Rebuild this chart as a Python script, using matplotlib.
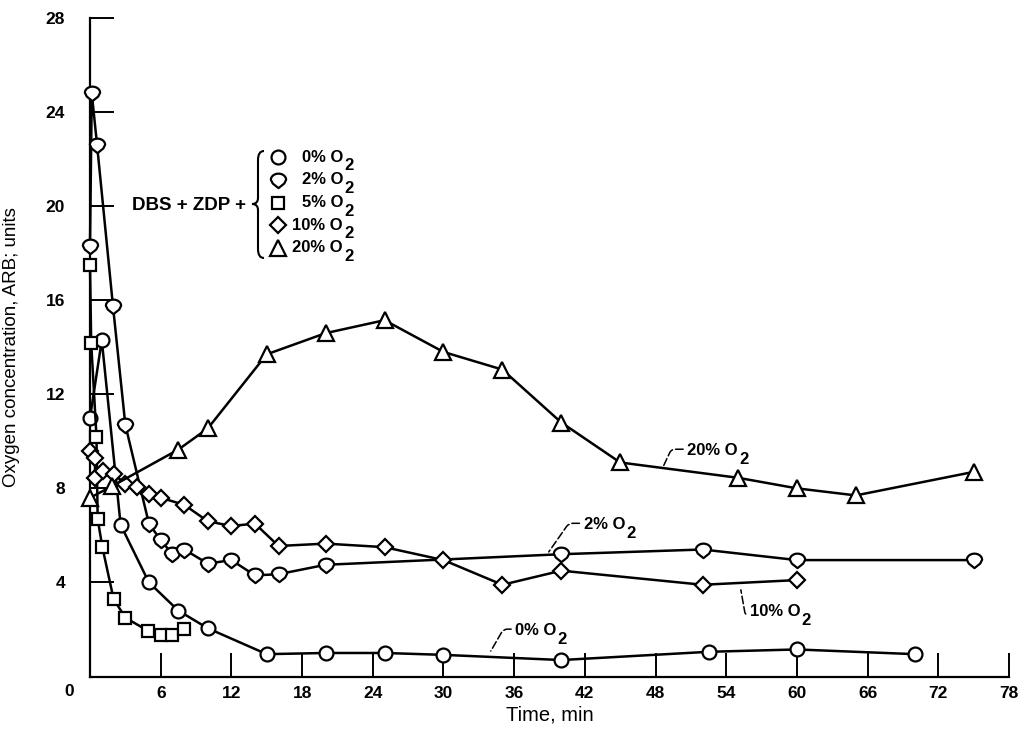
import numpy as np
import matplotlib
matplotlib.use('Agg')
import matplotlib.pyplot as plt
from matplotlib.path import Path
from matplotlib.patches import PathPatch
from matplotlib.lines import Line2D
from matplotlib.text import Text

# data (time in min, concentration in arb. units)
t_0 = [0, 1.0, 2.6, 5, 7.5, 10, 15, 20, 25, 30, 40, 52.5, 60, 70]
c_0 = [11.0, 14.3, 6.45, 4.0, 2.8, 2.05, 0.95, 1.0, 1.0, 0.92, 0.7, 1.05, 1.15, 0.95]

t_2 = [0, 0.15, 0.6, 1.95, 3.0, 5, 6, 7, 8, 10, 12, 14, 16, 20, 40, 52, 60, 75]
c_2 = [18.3, 24.8, 22.6, 15.75, 10.7, 6.5, 5.8, 5.2, 5.4, 4.8, 4.95, 4.3, 4.35, 4.75,
       5.2, 5.4, 4.95, 4.95]

t_5 = [0, 0.1, 0.55, 0.65, 1.05, 2, 3, 4.9, 6, 7, 8]
c_5 = [17.5, 14.2, 10.2, 6.7, 5.5, 3.3, 2.5, 1.95, 1.75, 1.75, 2.0]

t_10 = [0, 0.4, 0.45, 1.1, 2, 3, 4, 5, 6, 8, 10, 12, 14, 16, 20, 25, 30, 35, 40, 52, 60]
c_10 = [9.6, 9.3, 8.45, 8.75, 8.6, 8.2, 8.05, 7.75, 7.6, 7.3, 6.6, 6.4, 6.5, 5.55, 5.65,
        5.5, 4.95, 3.9, 4.5, 3.9, 4.1]

t_20 = [0, 1.9, 7.5, 10, 15, 20, 25, 30, 35, 40, 45, 55, 60, 65, 75]
c_20 = [7.6, 8.1, 9.65, 10.55, 13.7, 14.6, 15.15, 13.8, 13.05, 10.8, 9.1, 8.45, 8.0, 7.7, 8.7]

x_ticks = list(range(0, 79, 6))
y_ticks = list(range(0, 29, 4))
legend_names = ['0%', '2%', '5%', '10%', '20%']

W, H = 1020, 731
plt.rcParams['font.family'] = ['Liberation Sans', 'DejaVu Sans']
plt.rcParams['font.stretch'] = 'condensed'
plt.rcParams['font.weight'] = 'bold'
FS = 12.5     # tick labels
FL = 12       # legend and curve labels


def fpx(x, y):
    """pixel position (y from top) -> figure fraction"""
    return x / W, 1 - y / H


# 2% marker: round top, pointed bottom
th = np.linspace(0, np.pi, 13)
verts = [(np.cos(a), 0.1 + 0.8 * np.sin(a)) for a in th]
verts += [(-0.75, -0.4), (0, -1.0), (0.75, -0.4), (1, 0.1)]
drop = Path(verts, [Path.MOVETO] + [Path.LINETO] * (len(verts) - 2) + [Path.CLOSEPOLY])

styles = {
    '0%': dict(marker='o', ms=10),
    '2%': dict(marker=drop, ms=11),
    '5%': dict(marker='s', ms=9),
    '10%': dict(marker='D', ms=8),
    '20%': dict(marker='^', ms=11),
}

fig = plt.figure(figsize=(W / 100, H / 100), dpi=100)
ax = fig.add_axes([90 / W, 1 - 676.5 / H, 919 / W, (676.5 - 18) / H])

series = [(t_0, c_0, '0%'), (t_2, c_2, '2%'), (t_5, c_5, '5%'),
          (t_10, c_10, '10%'), (t_20, c_20, '20%')]
for t, c, name in series:
    ax.plot(t, c, color='k', lw=1.8, mfc='white', mec='k', mew=1.6,
            clip_on=False, zorder=3, **styles[name])

ax.set_xlim(0, 78)
ax.set_ylim(0, 28)
ax.set_xticks(x_ticks)
ax.set_yticks(y_ticks)
ax.set_xticklabels([''] + [str(v) for v in x_ticks[1:]])
ax.set_yticklabels([''] + [str(v) for v in y_ticks[1:]])
for s in ['top', 'right']:
    ax.spines[s].set_visible(False)
for s in ['left', 'bottom']:
    ax.spines[s].set_linewidth(1.6)
ax.tick_params(direction='in', length=17, width=1.4, labelsize=FS)
ax.tick_params(axis='y', pad=18)
ax.tick_params(axis='x', pad=7)
fig.text(*fpx(69, 691), '0', ha='center', va='center', fontsize=FS)

ax.set_xlabel('Time, min', fontsize=14.5, labelpad=3)
ax.set_ylabel('Oxygen concentration, ARB; units', fontsize=13.5, labelpad=18,
              fontweight='normal')

# legend block with brace
fig.text(*fpx(132, 206), 'DBS + ZDP +', ha='left', va='center', fontsize=13.5)
pts = [(264, 151), (258, 151), (258, 160), (258, 198), (258, 204), (252, 204),
       (258, 204), (258, 210), (258, 249), (258, 258), (264, 258)]
codes = [Path.MOVETO, Path.CURVE3, Path.CURVE3, Path.LINETO, Path.CURVE3, Path.CURVE3,
         Path.CURVE3, Path.CURVE3, Path.LINETO, Path.CURVE3, Path.CURVE3]
brace = Path([fpx(*p) for p in pts], codes)
fig.add_artist(PathPatch(brace, transform=fig.transFigure, fill=False, lw=1.5,
                         ec='k'))

sub_texts = []
rows = [157, 179.5, 202.5, 225, 247.5]
for name, yp in zip(legend_names, rows):
    st = styles[name]
    fig.add_artist(Line2D([fpx(278, yp)[0]], [fpx(278, yp)[1]],
                          transform=fig.transFigure, marker=st['marker'],
                          ms=st['ms'], mfc='white', mec='k', mew=1.6, ls='none'))
    tx = fig.text(*fpx(343, yp), name + ' O', ha='right', va='center', fontsize=FL)
    sub_texts.append(tx)

# curve labels with leader lines
leader = dict(arrowstyle='-', lw=1.1, ls=(0, (5, 2)), shrinkA=1, shrinkB=2)
callouts = [
    ('20%', (48.6, 8.87), (50.7, 9.6), 'angle,angleA=0,angleB=65,rad=4', (0, 0.6)),
    ('2%', (38.8, 5.2), (41.9, 6.45), 'angle,angleA=0,angleB=55,rad=4', (0, 0.6)),
    ('10%', (55.2, 3.8), (56.0, 2.75), 'angle,angleA=0,angleB=-80,rad=3', (0, 0.3)),
    ('0%', (33.9, 0.98), (36.1, 1.95), 'angle,angleA=0,angleB=60,rad=4', (0, 0.6)),
]
for name, xy, xyt, cs, rp in callouts:
    a = ax.annotate(name + ' O', xy=xy, xytext=xyt, ha='left', va='center',
                    fontsize=FL, arrowprops=dict(connectionstyle=cs, relpos=rp,
                                                 **leader))
    sub_texts.append(a)

# subscript 2 drawn at near full size, as in the original lettering
fig.canvas.draw()
r = fig.canvas.get_renderer()
for tx in sub_texts:
    bb = Text.get_window_extent(tx, r)
    fig.text((bb.x1 + 1) / W, (bb.y0 + 0.5 * bb.height - 9) / H, '2',
             ha='left', va='center', fontsize=FL)

fig.savefig('out.png', dpi=100)
